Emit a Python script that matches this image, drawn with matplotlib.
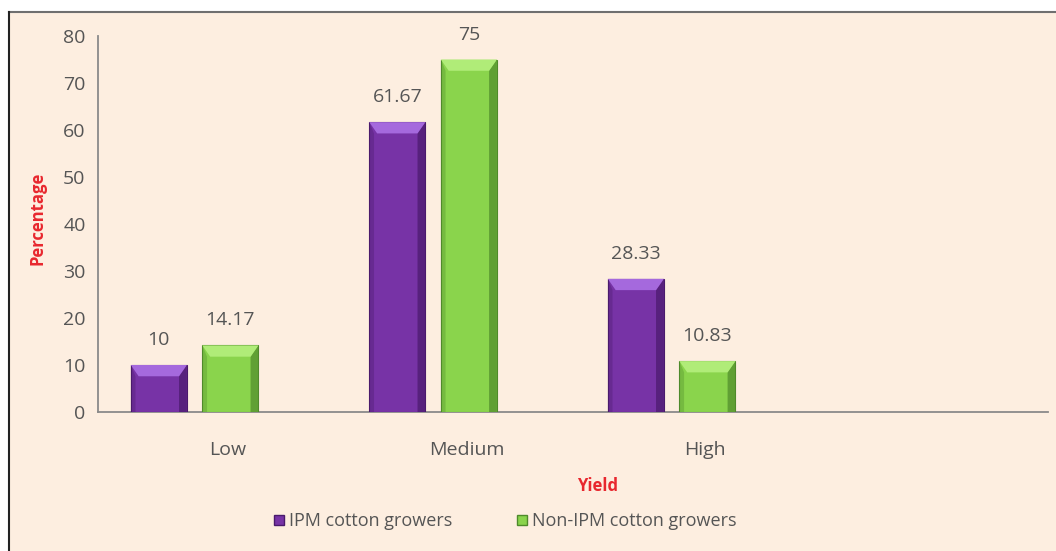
import matplotlib
matplotlib.use("Agg")
import matplotlib.pyplot as plt
from matplotlib.patches import Polygon, Rectangle
from matplotlib.lines import Line2D

categories = ["Low", "Medium", "High"]
ipm = [10, 61.67, 28.33]
non_ipm = [14.17, 75, 10.83]
series_names = ["IPM cotton growers", "Non-IPM cotton growers"]
yticks = [0, 10, 20, 30, 40, 50, 60, 70, 80]

BG = "#FDEEE0"
TEXT = "#555555"
RED = "#E8272E"
PURPLE = ("#7733A6", "#4A1A6C", "#A569DD")
GREEN = ("#8AD44C", "#4F8A2B", "#B0EC78")

plt.rcParams["font.family"] = ["Open Sans", "DejaVu Sans"]

fig = plt.figure(figsize=(10.56, 5.51), dpi=100, facecolor="white")
# chart area background with a thin frame on the top and left
fig.patches.append(Rectangle((9 / 1056, 0), 1, 1 - 12 / 551, transform=fig.transFigure,
                             facecolor=BG, edgecolor="none", zorder=-5))
fig.lines.append(Line2D([9 / 1056, 1], [1 - 12 / 551] * 2, transform=fig.transFigure,
                        color="#6f6f6f", lw=1.5, zorder=-4))
fig.lines.append(Line2D([9 / 1056] * 2, [0, 1 - 12 / 551], transform=fig.transFigure,
                        color="#222222", lw=1.5, zorder=-4))

ax = fig.add_axes([98 / 1056, 1 - 412 / 551, 950 / 1056, 376 / 551])
ax.set_facecolor("none")

width = 0.235
offsets = [-0.29, 0.01]


def bevel_bar(ax, xc, h, cols):
    main, dark, light = cols
    x0, x1 = xc - width / 2, xc + width / 2
    d = min(2.4, h * 0.3)
    s = width * 0.14
    ax.add_patch(Rectangle((x0, 0), width, h, facecolor=main, edgecolor=dark, lw=0.8, zorder=3))
    # right shaded side
    ax.add_patch(Polygon([(x1 - s, 0), (x1, 0), (x1, h), (x1 - s, h - d)],
                         closed=True, facecolor=dark, edgecolor="none", alpha=0.7, zorder=4))
    # top highlight
    ax.add_patch(Polygon([(x0, h), (x1, h), (x1 - s, h - d), (x0 + s, h - d)],
                         closed=True, facecolor=light, edgecolor="none", zorder=4))
    # soft left edge
    ax.add_patch(Polygon([(x0, 0), (x0 + s * 0.6, 0), (x0 + s * 0.6, h - d), (x0, h)],
                         closed=True, facecolor=dark, edgecolor="none", alpha=0.35, zorder=4))


for i, cat in enumerate(categories):
    for vals, off, cols in ((ipm, offsets[0], PURPLE), (non_ipm, offsets[1], GREEN)):
        v = vals[i]
        bevel_bar(ax, i + off, v, cols)
        ax.text(i + off, v + 3.4, f"{v:g}", ha="center", va="bottom", fontsize=14,
                color=TEXT, zorder=5)

ax.set_xlim(-0.545, 3.438)
ax.set_ylim(0, 80)
ax.set_xticks(range(len(categories)))
ax.set_xticklabels(categories, fontsize=14, color=TEXT)
ax.set_yticks(yticks)
ax.set_yticklabels([str(t) for t in yticks], fontsize=14, color=TEXT)
ax.tick_params(axis="both", length=0)
ax.tick_params(axis="y", pad=9)
ax.tick_params(axis="x", pad=21)
for side in ("top", "right"):
    ax.spines[side].set_visible(False)
for side in ("left", "bottom"):
    ax.spines[side].set_color("#8a8a8a")
    ax.spines[side].set_linewidth(1.3)

fig.text(598 / 1056, 1 - 486 / 551, "Yield", ha="center", va="center", fontsize=12,
         fontweight="bold", color=RED)
fig.text(37 / 1056, 1 - 218 / 551, "Percentage", ha="center", va="center", rotation=90,
         fontsize=12, fontweight="bold", color=RED)

handles = [Line2D([0], [0], marker="s", color="none", markerfacecolor=PURPLE[0],
                  markeredgecolor=PURPLE[1], markersize=7, label=series_names[0]),
           Line2D([0], [0], marker="s", color="none", markerfacecolor=GREEN[0],
                  markeredgecolor=GREEN[1], markersize=7, label=series_names[1])]
leg = fig.legend(handles=handles, loc="center", bbox_to_anchor=(505 / 1056, 1 - 521 / 551),
                 ncol=2, frameon=False, fontsize=13, handlelength=0.6, handletextpad=0.25,
                 columnspacing=3.6)
for t in leg.get_texts():
    t.set_color(TEXT)

fig.savefig("out.png", dpi=100, facecolor=fig.get_facecolor())
